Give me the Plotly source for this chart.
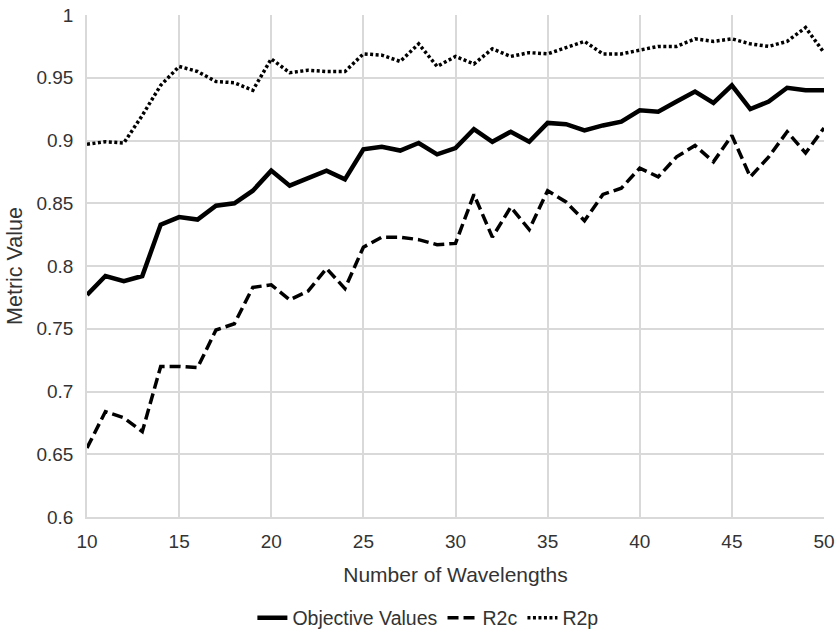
import plotly.graph_objects as go

wavelengths = list(range(10, 51))

objective_values = [0.777, 0.792, 0.788, 0.792, 0.833, 0.839, 0.837, 0.848, 0.850, 0.860,
                    0.876, 0.864, 0.870, 0.876, 0.869, 0.893, 0.895, 0.892, 0.898, 0.889,
                    0.894, 0.909, 0.899, 0.907, 0.899, 0.914, 0.913, 0.908, 0.912, 0.915,
                    0.924, 0.923, 0.931, 0.939, 0.930, 0.944, 0.925, 0.931, 0.942, 0.940,
                    0.940]

r2c = [0.655, 0.684, 0.679, 0.668, 0.720, 0.720, 0.719, 0.749, 0.754, 0.783,
       0.785, 0.773, 0.780, 0.798, 0.782, 0.815, 0.823, 0.823, 0.821, 0.817,
       0.818, 0.857, 0.823, 0.847, 0.829, 0.860, 0.851, 0.836, 0.857, 0.862,
       0.878, 0.871, 0.887, 0.896, 0.883, 0.904, 0.871, 0.887, 0.907, 0.890,
       0.910]

r2p = [0.897, 0.899, 0.898, 0.920, 0.944, 0.959, 0.955, 0.947, 0.946, 0.940,
       0.965, 0.954, 0.956, 0.955, 0.955, 0.969, 0.968, 0.963, 0.977, 0.959,
       0.967, 0.961, 0.973, 0.967, 0.970, 0.969, 0.974, 0.979, 0.969, 0.969,
       0.972, 0.975, 0.975, 0.981, 0.979, 0.981, 0.977, 0.975, 0.979, 0.990,
       0.970]

y_ticks = [0.6, 0.65, 0.7, 0.75, 0.8, 0.85, 0.9, 0.95, 1.0]
y_tick_labels = ["0.6", "0.65", "0.7", "0.75", "0.8", "0.85", "0.9", "0.95", "1"]
x_ticks = [10, 15, 20, 25, 30, 35, 40, 45, 50]

fig = go.Figure()
fig.add_trace(go.Scatter(x=wavelengths, y=objective_values, mode="lines",
                         name="Objective Values",
                         line=dict(color="black", width=4.5, dash="solid")))
fig.add_trace(go.Scatter(x=wavelengths, y=r2c, mode="lines", name="R2c",
                         line=dict(color="black", width=3.5, dash="11px,5px")))
fig.add_trace(go.Scatter(x=wavelengths, y=r2p, mode="lines", name="R2p",
                         line=dict(color="black", width=3.5, dash="3px,2.5px")))

grid = "#d9d9d9"
txt = "#333333"
fig.update_layout(
    width=839, height=634,
    margin=dict(l=87, r=15, t=15, b=117),
    paper_bgcolor="white", plot_bgcolor="white",
    font=dict(family="Liberation Sans, Arial, sans-serif", size=19, color=txt),
    showlegend=True,
    legend=dict(orientation="h", x=0.51, xref="container", xanchor="center",
                y=0.025, yref="container", yanchor="middle",
                font=dict(size=19.5, color=txt), tracegroupgap=0),
    xaxis=dict(range=[10, 50], tickvals=x_ticks, showgrid=True, gridcolor=grid,
               gridwidth=1.5, zeroline=False, showline=True, linecolor=grid,
               linewidth=1.5, mirror=False, ticks="", tickfont=dict(size=19),
               ticklabelstandoff=6, automargin=False,
               title=dict(text="Number of Wavelengths", font=dict(size=21), standoff=17)),
    yaxis=dict(range=[0.6, 1.0], tickvals=y_ticks, ticktext=y_tick_labels,
               showgrid=True, gridcolor=grid, gridwidth=1.5, zeroline=False,
               showline=True, linecolor=grid, linewidth=1.5, ticks="",
               tickfont=dict(size=19), ticklabelstandoff=8, automargin=False,
               title=dict(text="Metric Value", font=dict(size=21.5), standoff=8)),
)

fig.write_html("out.html")
